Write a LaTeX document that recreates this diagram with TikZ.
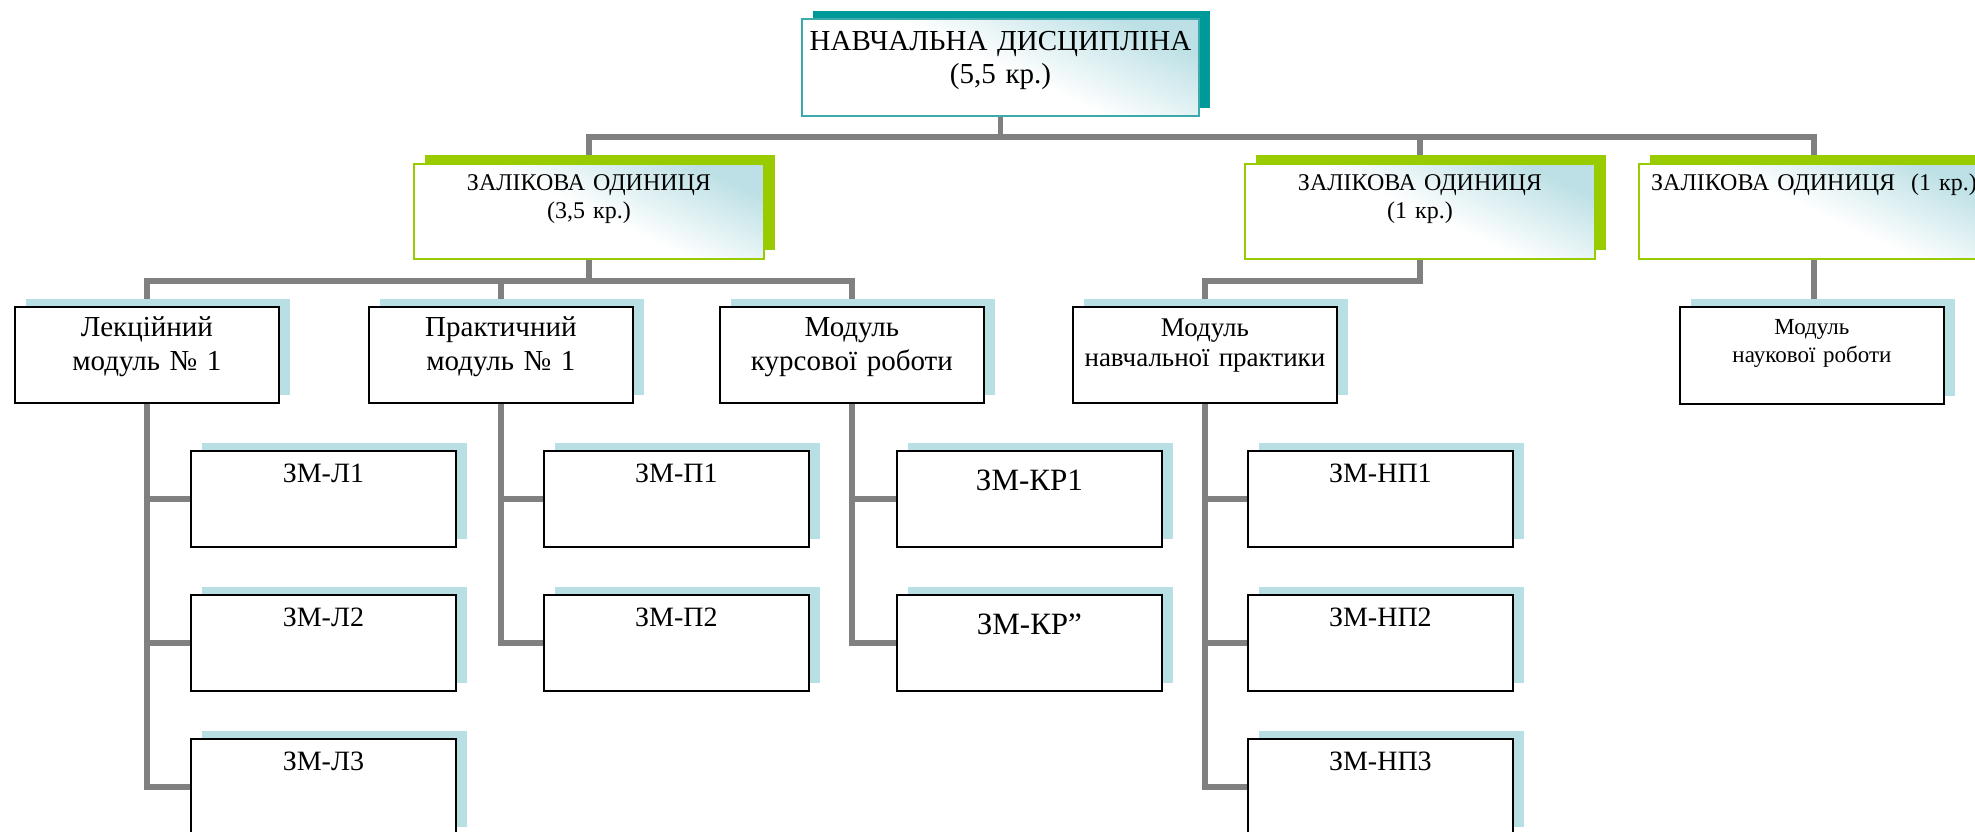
\documentclass[tikz,border=0pt]{standalone}
\usepackage{fontspec}
\setmainfont{Liberation Serif}
\usetikzlibrary{backgrounds,shadows}

\definecolor{linkgray}{RGB}{128,128,128}
\definecolor{discteal}{RGB}{0,153,153}
\definecolor{discedge}{RGB}{60,170,170}
\definecolor{unitgreen}{RGB}{153,204,0}
\definecolor{modblue}{RGB}{184,223,227}
\definecolor{shadeblue}{RGB}{188,224,229}

\tikzset{
  link/.style={draw=linkgray, line width=2.75pt},
  glossy/.style={top color=shadeblue, bottom color=white, middle color=white, shading angle=-25},
  topbox/.style={glossy, draw=discedge, line width=1pt, anchor=north west, inner sep=0pt,
    text width=198.5pt, align=center, text height=15.5pt, text depth=33pt,
    font=\fontsize{14.5}{16.5}\selectfont,
    general shadow={fill=discteal, shadow xshift=5.5pt, shadow yshift=4pt}},
  unitbox/.style={glossy, draw=unitgreen, line width=1pt, anchor=north west, inner sep=0pt,
    text width=175pt, align=center, text height=13pt, text depth=34.5pt,
    font=\fontsize{12}{14}\selectfont,
    general shadow={fill=unitgreen, shadow xshift=5.5pt, shadow yshift=4.5pt}},
  modbox/.style={fill=white, draw=black, line width=0.9pt, anchor=north west, inner sep=0pt,
    text width=132pt, align=center, text height=15pt, text depth=33pt,
    font=\fontsize{14.5}{17}\selectfont,
    general shadow={fill=modblue, shadow xshift=5.5pt, shadow yshift=4pt}},
  zmbox/.style={modbox, text width=132.5pt, text height=16pt, text depth=32pt,
    font=\fontsize{14}{16}\selectfont},
  krbox/.style={zmbox, text height=20pt, text depth=28pt, font=\fontsize{15.5}{18}\selectfont},
}

\begin{document}
\begin{tikzpicture}[x=0.5pt, y=-0.5pt]
  \useasboundingbox (0,0) rectangle (1975,831);

  \node[topbox] (disc) at (801,18) {НАВЧАЛЬНА ДИСЦИПЛІНА\\(5,5 кр.)};

  \node[unitbox] (zo1) at (413,163) {ЗАЛІКОВА ОДИНИЦЯ\\(3,5 кр.)};
  \node[unitbox] (zo2) at (1244,163) {ЗАЛІКОВА ОДИНИЦЯ\\(1 кр.)};
  \node[unitbox] (zo3) at (1638,163) {ЗАЛІКОВА ОДИНИЦЯ\ \ (1 кр.)};

  \node[modbox] (lek) at (14,306) {Лекційний\\модуль № 1};
  \node[modbox] (prak) at (368,306) {Практичний\\модуль № 1};
  \node[modbox] (kurs) at (719,306) {Модуль\\курсової роботи};
  \node[modbox, font=\fontsize{13.5}{15}\selectfont] (npr) at (1072,306) {Модуль\\навчальної практики};
  \node[modbox, text height=14pt, text depth=34.5pt, font=\fontsize{11.5}{14}\selectfont] (nauk) at (1679,306) {Модуль\\наукової роботи};

  \foreach \n/\x/\y/\t in {l1/190/450/ЗМ-Л1, l2/190/594/ЗМ-Л2, l3/190/738/ЗМ-Л3,
      p1/543/450/ЗМ-П1, p2/543/594/ЗМ-П2,
      n1/1247/450/ЗМ-НП1, n2/1247/594/ЗМ-НП2, n3/1247/738/ЗМ-НП3}
    \node[zmbox] (\n) at (\x,\y) {\t};
  \node[krbox] (k1) at (896,450) {ЗМ-КР1};
  \node[krbox] (k2) at (896,594) {ЗМ-КР”};

  \coordinate (bar1) at (0,137);
  \coordinate (bar2) at (0,281);

  \begin{scope}[on background layer]
    \draw[link] (disc.south) -- (disc.south |- bar1) -| (zo1.north);
    \draw[link] (disc.south |- bar1) -| (zo2.north);
    \draw[link] (disc.south |- bar1) -| (zo3.north);
    \draw[link] (zo1.south) -- (zo1.south |- bar2) -| (lek.north);
    \draw[link] (zo1.south |- bar2) -| (prak.north);
    \draw[link] (zo1.south |- bar2) -| (kurs.north);
    \draw[link] (zo2.south) -- (zo2.south |- bar2) -| (npr.north);
    \draw[link] (zo3.south) -- (zo3.south |- nauk.north);
    \foreach \m/\z in {lek/l1, lek/l2, lek/l3, prak/p1, prak/p2, kurs/k1, kurs/k2, npr/n1, npr/n2, npr/n3}
      \draw[link] (\m.south) |- (\z.west);
  \end{scope}
\end{tikzpicture}
\end{document}
